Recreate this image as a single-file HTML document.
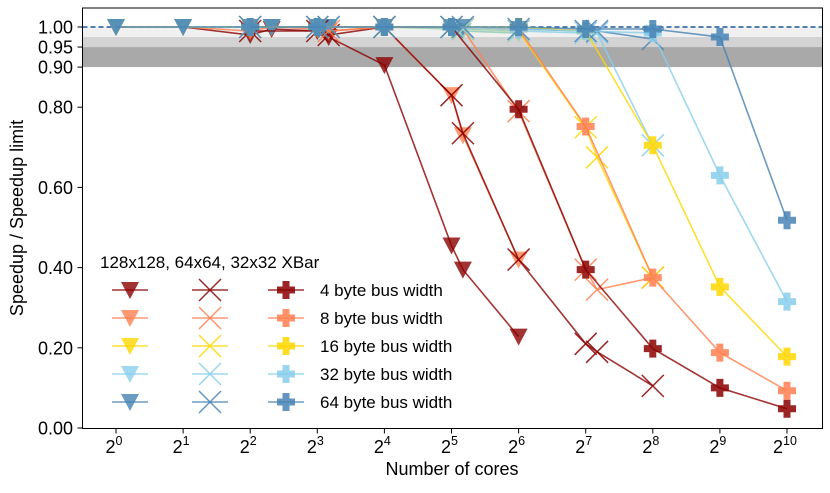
<!DOCTYPE html>
<html><head><meta charset="utf-8"><style>
body{margin:0;background:#fff}
svg text{font-family:"Liberation Sans","DejaVu Sans",sans-serif;fill:#000}
</style></head><body>
<svg id="chart" width="830" height="488" viewBox="0 0 830 488" xmlns="http://www.w3.org/2000/svg">
<g id="bands"></g><g id="grid"></g><g id="series"></g><g id="axes"></g><g id="legend"></g>
</svg>
<script>
const xTicks=[0,1,2,3,4,5,6,7,8,9,10];
const yTicks=[0,0.2,0.4,0.6,0.8,0.9,0.95,1.0];
const yTickLabels=["0.00","0.20","0.40","0.60","0.80","0.90","0.95","1.00"];
const busWidths=["4 byte bus width","8 byte bus width","16 byte bus width","32 byte bus width","64 byte bus width"];
const triX=[0,1,2,2.32,3,3.17,4,5,5.17,6];
const tri4=[1,1,0.98,0.995,0.99,0.975,0.905,0.455,0.395,0.228];
const tri8=[1,1,0.99,1,0.995,0.99,1,0.83,0.73,0.42];
const tri16=[1,1,1,1,1,1,1,0.995,0.99,0.985];
const tri32=[1,1,1,1,1,1,1,0.995,0.99,0.985];
const tri64=[1,1,1,1,1,1,1,1,1,0.995];
const crossX=[2,3,3.17,4,5,5.17,6,7,7.17,8];
const cross4=[0.99,0.99,0.98,1.0,0.83,0.735,0.42,0.21,0.19,0.105];
const cross8=[1,1,0.99,1,1,0.995,0.79,0.395,0.345,0.375];
const cross16=[1,1,1,1,1,0.995,0.99,0.75,0.675,0.375];
const cross32=[1,1,1,1,1,0.995,0.99,0.985,0.985,0.705];
const cross64=[1,1,1,1,1,1,0.995,0.99,0.99,0.97];
const plusX=[2,3,4,5,6,7,8,9,10];
const plus4=[1,1,1,1,0.795,0.395,0.198,0.1,0.048];
const plus8=[1,1,1,1,0.995,0.752,0.375,0.188,0.093];
const plus16=[1,1,1,1,1,0.99,0.705,0.352,0.178];
const plus32=[1,1,1,1,0.995,0.99,0.985,0.63,0.315];
const plus64=[1,1,1,1,1,0.995,0.995,0.975,0.518];

const NS="http://www.w3.org/2000/svg";
const L=82.5,R=822.5,T=8,B=428.5;
const xs=v=>116+v*67.1;
const ys=v=>428-401*v;
const colors=["#8b0000","#ff7f50","#ffd700","#87ceeb","#4682b4"];
function mk(tag,attrs,parent){const e=document.createElementNS(NS,tag);for(const k in attrs)e.setAttribute(k,attrs[k]);parent.appendChild(e);return e;}
const bands=document.getElementById('bands');
let r1=mk('rect',{x:L,y:ys(1),width:R-L,height:ys(0.975)-ys(1),fill:"#f0f0f0"},bands);


let r2=mk('rect',{x:L,y:ys(0.975),width:R-L,height:ys(0.95)-ys(0.975),fill:"#d3d3d3"},bands);


let r3=mk('rect',{x:L,y:ys(0.95),width:R-L,height:ys(0.9)-ys(0.95),fill:"#a9a9a9"},bands);


let dl=mk('line',{x1:L,x2:R,y1:ys(1),y2:ys(1),stroke:"#1f5a9e","stroke-width":1.5,"stroke-dasharray":"5,3"},bands);



function marker(kind,cx,cy,c,parent){
  const g=mk('g',{},parent);
  if(kind==='tri'){mk('path',{d:`M${cx-9},${cy-8} L${cx+9},${cy-8} L${cx},${cy+9} Z`,fill:c,"fill-opacity":0.8},g);}
  else if(kind==='cross'){mk('path',{d:`M${cx-11},${cy-11} L${cx+11},${cy+11} M${cx-11},${cy+11} L${cx+11},${cy-11}`,stroke:c,"stroke-width":1.5,"stroke-opacity":0.85},g);}
  else {mk('path',{d:`M${cx-3.5},${cy-9} h7 v5.5 h5.5 v7 h-5.5 v5.5 h-7 v-5.5 h-5.5 v-7 h5.5 Z`,fill:c,"fill-opacity":0.85},g);}
  return g;
}
const groups=[["tri",triX,[tri4,tri8,tri16,tri32,tri64]],["cross",crossX,[cross4,cross8,cross16,cross32,cross64]],["plus",plusX,[plus4,plus8,plus16,plus32,plus64]]];
const sg=document.getElementById('series');
groups.forEach(([kind,X,sets])=>{
  sets.forEach((Y,i)=>{
    const g=mk('g',{},sg);
    
    
    mk('polyline',{points:X.map((x,j)=>xs(x)+','+ys(Y[j])).join(' '),fill:'none',stroke:colors[i],"stroke-width":1.6,"stroke-opacity":0.8},g);
    X.forEach((x,j)=>{const m=marker(kind,xs(x),ys(Y[j]),colors[i],g);
      
      });
  });
});
const ax=document.getElementById('axes');
let fr=mk('rect',{x:L,y:T,width:R-L,height:B-T,fill:'none',stroke:'#000','stroke-width':1},ax);


xTicks.forEach(t=>{const x=xs(t);mk('line',{x1:x,x2:x,y1:B,y2:B+5,stroke:'#000'},ax);
  const tx=mk('text',{x:x-2,y:453,'font-size':18,'text-anchor':'middle'},ax);tx.textContent='2';
  const sp=mk('tspan',{dy:-8,'font-size':12.5},tx);sp.textContent=String(t);
  
  });
yTicks.forEach((t,i)=>{const y=ys(t);mk('line',{x1:L-5,x2:L,y1:y,y2:y,stroke:'#000'},ax);
  const tx=mk('text',{x:73,y:y+6.5,'font-size':18,'text-anchor':'end'},ax);tx.textContent=yTickLabels[i];
  
  });
let xl=mk('text',{x:452,y:475,'font-size':18,'text-anchor':'middle'},ax);xl.textContent='Number of cores';


let yl=mk('text',{x:0,y:0,'font-size':18,'text-anchor':'middle',transform:'translate(23,218) rotate(-90)'},ax);yl.textContent='Speedup / Speedup limit';


const lg=document.getElementById('legend');
let lt=mk('text',{x:100,y:268,'font-size':17},lg);lt.textContent='128x128, 64x64, 32x32 XBar';


busWidths.forEach((b,i)=>{const y=290+i*28;const c=colors[i];
  const g=mk('g',{},lg);
  
  
  [[130,'tri'],[210,'cross'],[286,'plus']].forEach(([cx,k])=>{
    mk('line',{x1:cx-18,x2:cx+18,y1:y,y2:y,stroke:c,'stroke-width':1.6,'stroke-opacity':0.8},g);
    marker(k,cx,y,c,g);});
  const t=mk('text',{x:320,y:y+6,'font-size':17},g);t.textContent=b;});
</script>
</body></html>
